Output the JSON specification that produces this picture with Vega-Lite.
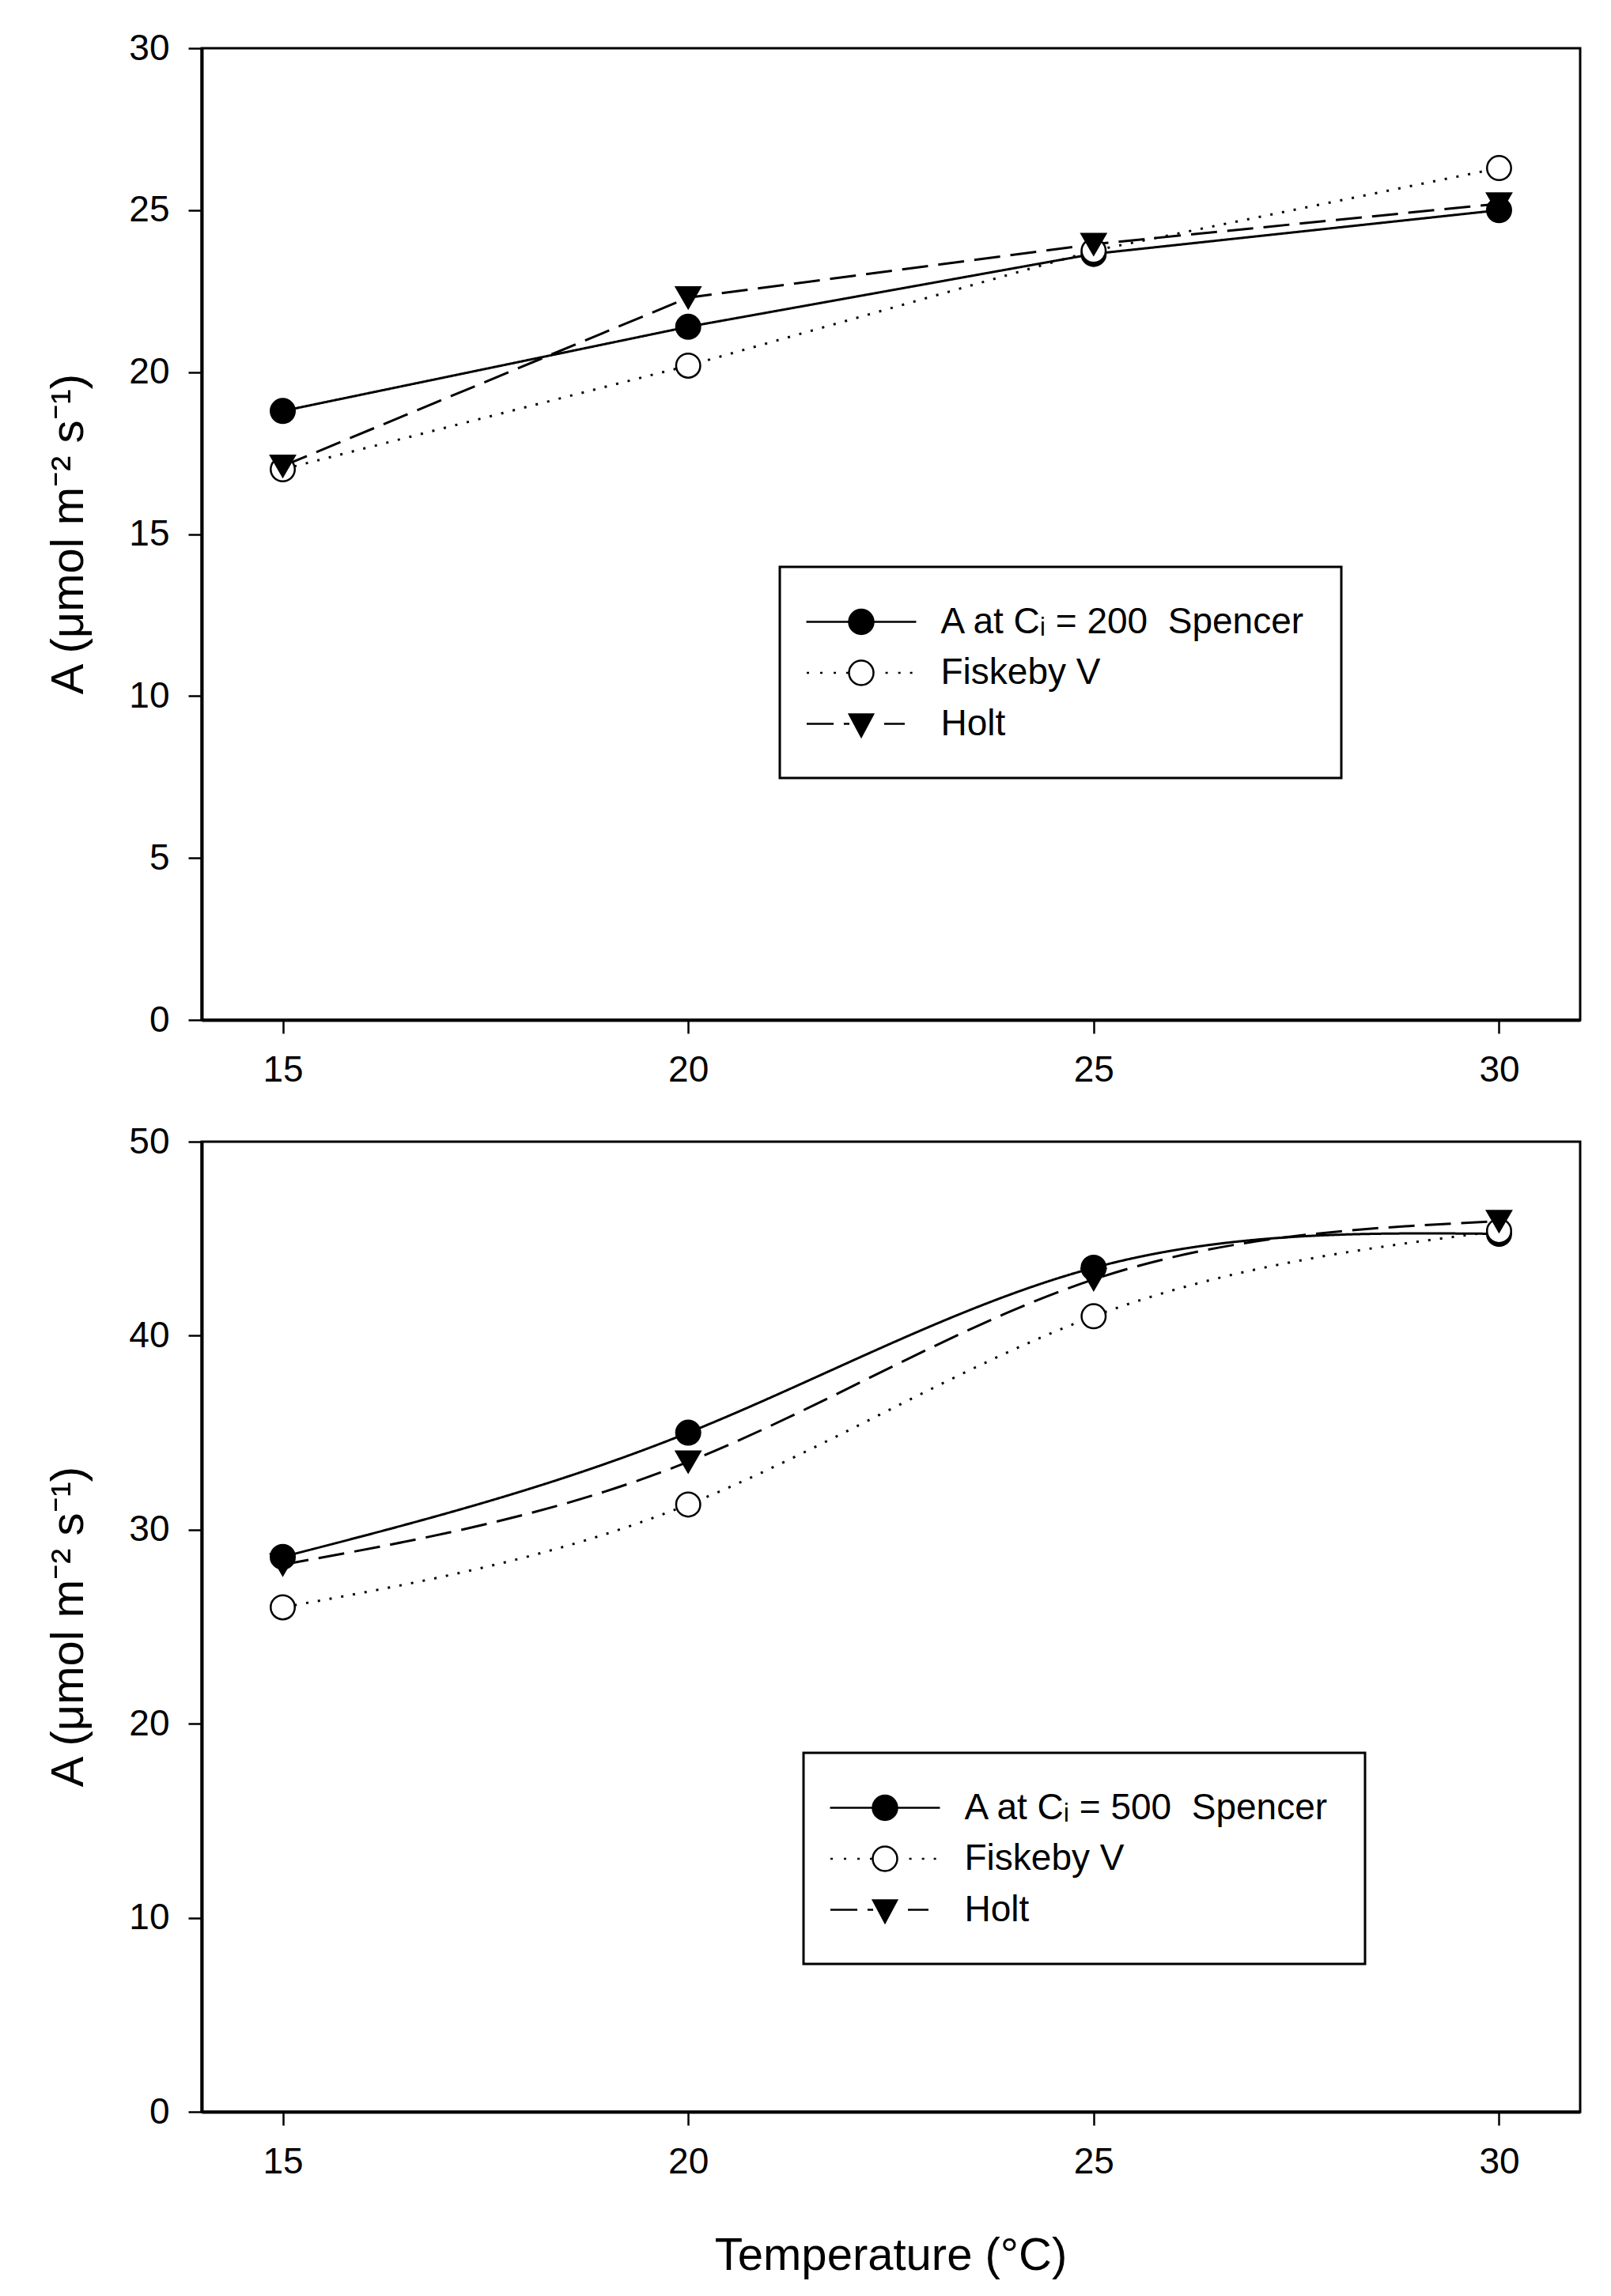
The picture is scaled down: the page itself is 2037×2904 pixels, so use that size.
{
  "$schema": "https://vega.github.io/schema/vega-lite/v6.json",
  "background": "white",
  "padding": {"left": 56, "top": 36, "right": 5, "bottom": 5},
  "config": {
    "font": "Liberation Sans",
    "view": {"stroke": "black", "strokeWidth": 3},
    "legend": {"strokeWidth": 3},
    "axis": {
      "grid": false,
      "domainColor": "black",
      "domainWidth": 4,
      "tickColor": "black",
      "tickWidth": 2.5,
      "tickSize": 17,
      "labelFont": "Liberation Sans",
      "labelFontSize": 46,
      "labelColor": "black",
      "labelPadding": 24,
      "titleFont": "Liberation Sans",
      "titleFontSize": 58,
      "titleFontWeight": "normal",
      "titleColor": "black"
    }
  },
  "datasets": {
    "photo": [
      {"ci": 200, "variety": "Spencer", "T": 15, "A": 18.8},
      {"ci": 200, "variety": "Spencer", "T": 20, "A": 21.4},
      {"ci": 200, "variety": "Spencer", "T": 25, "A": 23.65},
      {"ci": 200, "variety": "Spencer", "T": 30, "A": 25.0},
      {"ci": 200, "variety": "Fiskeby V", "T": 15, "A": 17.0},
      {"ci": 200, "variety": "Fiskeby V", "T": 20, "A": 20.2},
      {"ci": 200, "variety": "Fiskeby V", "T": 25, "A": 23.75},
      {"ci": 200, "variety": "Fiskeby V", "T": 30, "A": 26.3},
      {"ci": 200, "variety": "Holt", "T": 15, "A": 17.1},
      {"ci": 200, "variety": "Holt", "T": 20, "A": 22.3},
      {"ci": 200, "variety": "Holt", "T": 25, "A": 23.95},
      {"ci": 200, "variety": "Holt", "T": 30, "A": 25.2},
      {"ci": 500, "variety": "Spencer", "T": 15, "A": 28.6},
      {"ci": 500, "variety": "Spencer", "T": 20, "A": 35.0},
      {"ci": 500, "variety": "Spencer", "T": 25, "A": 43.5},
      {"ci": 500, "variety": "Spencer", "T": 30, "A": 45.25},
      {"ci": 500, "variety": "Fiskeby V", "T": 15, "A": 26.0},
      {"ci": 500, "variety": "Fiskeby V", "T": 20, "A": 31.3},
      {"ci": 500, "variety": "Fiskeby V", "T": 25, "A": 41.0},
      {"ci": 500, "variety": "Fiskeby V", "T": 30, "A": 45.4},
      {"ci": 500, "variety": "Holt", "T": 15, "A": 28.2},
      {"ci": 500, "variety": "Holt", "T": 20, "A": 33.5},
      {"ci": 500, "variety": "Holt", "T": 25, "A": 42.9},
      {"ci": 500, "variety": "Holt", "T": 30, "A": 45.9}
    ]
  },
  "bounds": "flush",
  "spacing": 154,
  "resolve": {
    "scale": {"shape": "independent", "fill": "independent", "stroke": "independent", "y": "independent"},
    "legend": {"shape": "independent", "fill": "independent", "stroke": "independent"}
  },
  "vconcat": [
    {
      "width": 1743,
      "height": 1229,
      "data": {"name": "photo"},
      "transform": [{"filter": "datum.ci == 200"}],
      "encoding": {
        "x": {
          "field": "T", "type": "quantitative",
          "scale": {"domain": [14, 31], "nice": false, "zero": false},
          "axis": {"values": [15, 20, 25, 30], "title": null}
        },
        "y": {
          "field": "A", "type": "quantitative",
          "scale": {"domain": [0, 30], "nice": false},
          "axis": {
            "values": [0, 5, 10, 15, 20, 25, 30],
            "title": "A (μmol m⁻² s⁻¹)",
            "titleAngle": 270,
            "titleBaseline": "alphabetic",
            "titleAlign": "center",
            "titleX": -151,
            "titleY": 614
          }
        }
      },
      "layer": [
        {
          "mark": {"type": "line", "color": "black", "strokeWidth": 3, "interpolate": "linear"},
          "encoding": {
            "strokeDash": {
              "field": "variety", "type": "nominal",
              "scale": {"domain": ["Spencer", "Fiskeby V", "Holt"], "range": [[1, 0], [3, 12], [33, 13]]},
              "legend": null
            }
          }
        },
        {
          "transform": [{"filter": "datum.variety == 'Spencer'"}],
          "mark": {"type": "point", "shape": "circle", "filled": true, "fill": "black", "stroke": "black", "strokeWidth": 2.5, "opacity": 1, "size": 930}
        },
        {
          "transform": [{"filter": "datum.variety == 'Fiskeby V'"}],
          "mark": {"type": "point", "shape": "circle", "filled": true, "fill": "white", "stroke": "black", "strokeWidth": 2.5, "opacity": 1, "size": 930}
        },
        {
          "transform": [{"filter": "datum.variety == 'Holt'"}],
          "mark": {"type": "point", "shape": "triangle-down", "filled": true, "fill": "black", "stroke": "black", "strokeWidth": 2.5, "opacity": 1, "size": 930}
        },
        {
          "transform": [{"filter": "datum.T < 0"}],
          "mark": {"type": "point", "filled": true, "strokeWidth": 2.5, "opacity": 1},
          "encoding": {
            "shape": {
              "field": "variety", "type": "nominal",
              "scale": {
                "domain": ["Spencer", "Fiskeby V", "Holt"],
                "range": [
                  "M-3.02,0H-0.674M0.674,0H3.02M-0.674,0A0.674,0.674 0 1 0 0.674,0A0.674,0.674 0 1 0 -0.674,0Z",
                  "M-3,0h0.13M-2.26,0h0.13M-1.52,0h0.13M-0.83,0h0.13M1.33,0h0.13M2.03,0h0.13M2.68,0h0.13M-0.674,0A0.674,0.674 0 1 0 0.674,0A0.674,0.674 0 1 0 -0.674,0Z",
                  "M-3,0H-1.52M-0.96,0H-0.652M1.26,0H2.39M-0.652,-0.52L0.652,-0.52L0,0.7Z"
                ]
              },
              "legend": {
                "title": null, "orient": "none", "legendX": 731, "legendY": 656,
                "padding": 45, "strokeColor": "black", "fillColor": "white",
                "symbolSize": 2116, "symbolStrokeWidth": 2.5, "symbolOpacity": 1, "symbolOffset": 33.5,
                "labelFont": "Liberation Sans", "labelFontSize": 46, "labelColor": "black",
                "labelOffset": 76, "labelLimit": 1000, "rowPadding": 16.5,
                "labelExpr": "datum.label == 'Spencer' ? 'A at Cᵢ = 200\u00a0\u00a0Spencer' : datum.label"
              }
            },
            "fill": {
              "field": "variety", "type": "nominal",
              "scale": {"domain": ["Spencer", "Fiskeby V", "Holt"], "range": ["black", "white", "black"]},
              "legend": {
                "title": null, "orient": "none", "legendX": 731, "legendY": 656,
                "padding": 45, "strokeColor": "black", "fillColor": "white",
                "symbolSize": 2116, "symbolStrokeWidth": 2.5, "symbolOpacity": 1, "symbolOffset": 33.5,
                "labelFont": "Liberation Sans", "labelFontSize": 46, "labelColor": "black",
                "labelOffset": 76, "labelLimit": 1000, "rowPadding": 16.5,
                "labelExpr": "datum.label == 'Spencer' ? 'A at Cᵢ = 200\u00a0\u00a0Spencer' : datum.label"
              }
            },
            "stroke": {
              "field": "variety", "type": "nominal",
              "scale": {"domain": ["Spencer", "Fiskeby V", "Holt"], "range": ["black", "black", "black"]},
              "legend": {
                "title": null, "orient": "none", "legendX": 731, "legendY": 656,
                "padding": 45, "strokeColor": "black", "fillColor": "white",
                "symbolSize": 2116, "symbolStrokeWidth": 2.5, "symbolOpacity": 1, "symbolOffset": 33.5,
                "labelFont": "Liberation Sans", "labelFontSize": 46, "labelColor": "black",
                "labelOffset": 76, "labelLimit": 1000, "rowPadding": 16.5,
                "labelExpr": "datum.label == 'Spencer' ? 'A at Cᵢ = 200\u00a0\u00a0Spencer' : datum.label"
              }
            }
          }
        }
      ]
    },
    {
      "width": 1743,
      "height": 1227,
      "data": {"name": "photo"},
      "transform": [{"filter": "datum.ci == 500"}],
      "encoding": {
        "x": {
          "field": "T", "type": "quantitative",
          "scale": {"domain": [14, 31], "nice": false, "zero": false},
          "axis": {
            "values": [15, 20, 25, 30],
            "title": "Temperature (°C)",
            "titleBaseline": "alphabetic",
            "titleAlign": "center",
            "titleX": 871,
            "titleY": 199
          }
        },
        "y": {
          "field": "A", "type": "quantitative",
          "scale": {"domain": [0, 50], "nice": false},
          "axis": {
            "values": [0, 10, 20, 30, 40, 50],
            "title": "A (μmol m⁻² s⁻¹)",
            "titleAngle": 270,
            "titleBaseline": "alphabetic",
            "titleAlign": "center",
            "titleX": -151,
            "titleY": 613
          }
        }
      },
      "layer": [
        {
          "mark": {"type": "line", "color": "black", "strokeWidth": 3, "interpolate": "natural"},
          "encoding": {
            "strokeDash": {
              "field": "variety", "type": "nominal",
              "scale": {"domain": ["Spencer", "Fiskeby V", "Holt"], "range": [[1, 0], [3, 12], [33, 13]]},
              "legend": null
            }
          }
        },
        {
          "transform": [{"filter": "datum.variety == 'Spencer'"}],
          "mark": {"type": "point", "shape": "circle", "filled": true, "fill": "black", "stroke": "black", "strokeWidth": 2.5, "opacity": 1, "size": 930}
        },
        {
          "transform": [{"filter": "datum.variety == 'Fiskeby V'"}],
          "mark": {"type": "point", "shape": "circle", "filled": true, "fill": "white", "stroke": "black", "strokeWidth": 2.5, "opacity": 1, "size": 930}
        },
        {
          "transform": [{"filter": "datum.variety == 'Holt'"}],
          "mark": {"type": "point", "shape": "triangle-down", "filled": true, "fill": "black", "stroke": "black", "strokeWidth": 2.5, "opacity": 1, "size": 930}
        },
        {
          "transform": [{"filter": "datum.T < 0"}],
          "mark": {"type": "point", "filled": true, "strokeWidth": 2.5, "opacity": 1},
          "encoding": {
            "shape": {
              "field": "variety", "type": "nominal",
              "scale": {
                "domain": ["Spencer", "Fiskeby V", "Holt"],
                "range": [
                  "M-3.02,0H-0.674M0.674,0H3.02M-0.674,0A0.674,0.674 0 1 0 0.674,0A0.674,0.674 0 1 0 -0.674,0Z",
                  "M-3,0h0.13M-2.26,0h0.13M-1.52,0h0.13M-0.83,0h0.13M1.33,0h0.13M2.03,0h0.13M2.68,0h0.13M-0.674,0A0.674,0.674 0 1 0 0.674,0A0.674,0.674 0 1 0 -0.674,0Z",
                  "M-3,0H-1.52M-0.96,0H-0.652M1.26,0H2.39M-0.652,-0.52L0.652,-0.52L0,0.7Z"
                ]
              },
              "legend": {
                "title": null, "orient": "none", "legendX": 761, "legendY": 773,
                "padding": 45, "strokeColor": "black", "fillColor": "white",
                "symbolSize": 2116, "symbolStrokeWidth": 2.5, "symbolOpacity": 1, "symbolOffset": 33.5,
                "labelFont": "Liberation Sans", "labelFontSize": 46, "labelColor": "black",
                "labelOffset": 76, "labelLimit": 1000, "rowPadding": 16.5,
                "labelExpr": "datum.label == 'Spencer' ? 'A at Cᵢ = 500\u00a0\u00a0Spencer' : datum.label"
              }
            },
            "fill": {
              "field": "variety", "type": "nominal",
              "scale": {"domain": ["Spencer", "Fiskeby V", "Holt"], "range": ["black", "white", "black"]},
              "legend": {
                "title": null, "orient": "none", "legendX": 761, "legendY": 773,
                "padding": 45, "strokeColor": "black", "fillColor": "white",
                "symbolSize": 2116, "symbolStrokeWidth": 2.5, "symbolOpacity": 1, "symbolOffset": 33.5,
                "labelFont": "Liberation Sans", "labelFontSize": 46, "labelColor": "black",
                "labelOffset": 76, "labelLimit": 1000, "rowPadding": 16.5,
                "labelExpr": "datum.label == 'Spencer' ? 'A at Cᵢ = 500\u00a0\u00a0Spencer' : datum.label"
              }
            },
            "stroke": {
              "field": "variety", "type": "nominal",
              "scale": {"domain": ["Spencer", "Fiskeby V", "Holt"], "range": ["black", "black", "black"]},
              "legend": {
                "title": null, "orient": "none", "legendX": 761, "legendY": 773,
                "padding": 45, "strokeColor": "black", "fillColor": "white",
                "symbolSize": 2116, "symbolStrokeWidth": 2.5, "symbolOpacity": 1, "symbolOffset": 33.5,
                "labelFont": "Liberation Sans", "labelFontSize": 46, "labelColor": "black",
                "labelOffset": 76, "labelLimit": 1000, "rowPadding": 16.5,
                "labelExpr": "datum.label == 'Spencer' ? 'A at Cᵢ = 500\u00a0\u00a0Spencer' : datum.label"
              }
            }
          }
        }
      ]
    }
  ]
}
